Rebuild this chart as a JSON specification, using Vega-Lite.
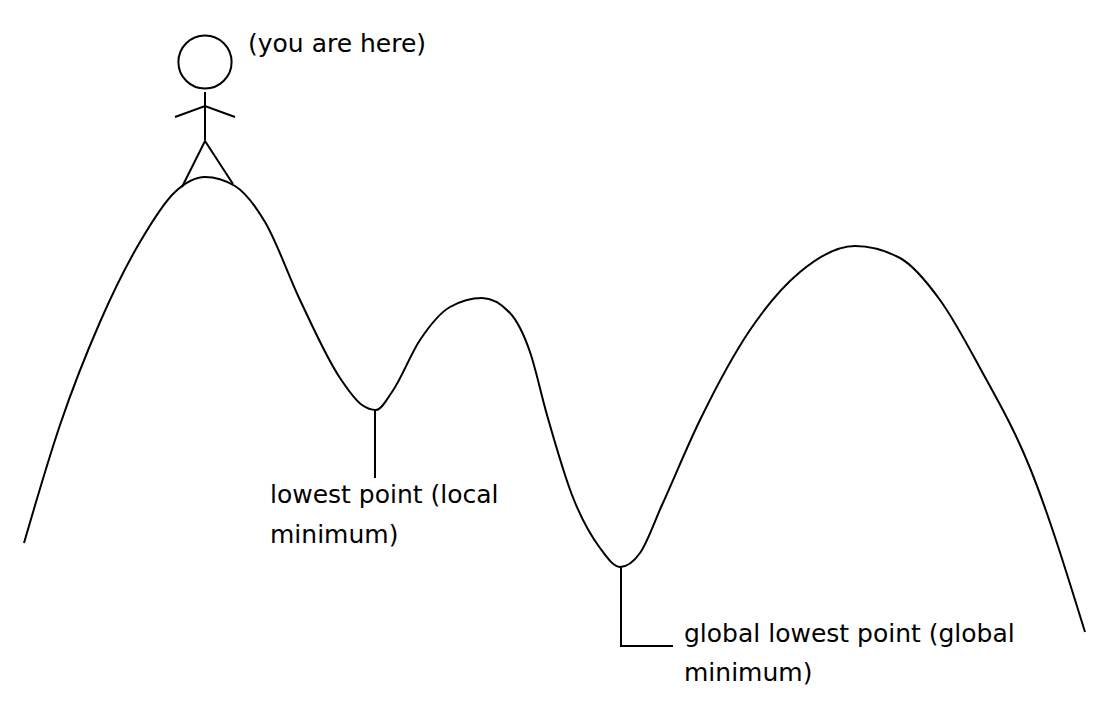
{
"$schema":"https://vega.github.io/schema/vega-lite/v6.json",
"autosize":{"type":"fit","contains":"padding"},
"width":1109,"height":710,"padding":0,
"config":{"view":{"stroke":null},"axis":{"disable":true}},
"background":"white",
"datasets":{
"curve":[{"x":24,"y":543},{"x":60,"y":425},{"x":100,"y":322},{"x":140,"y":242},{"x":175,"y":192},{"x":205,"y":177},{"x":235,"y":186},{"x":265,"y":222},{"x":300,"y":300},{"x":340,"y":378},{"x":362,"y":405},{"x":376,"y":410},{"x":392,"y":392},{"x":420,"y":340},{"x":450,"y":307},{"x":482,"y":298},{"x":510,"y":313},{"x":530,"y":352},{"x":547,"y":415},{"x":572,"y":495},{"x":600,"y":548},{"x":620,"y":567},{"x":640,"y":553},{"x":662,"y":505},{"x":700,"y":420},{"x":750,"y":330},{"x":800,"y":272},{"x":855,"y":246},{"x":900,"y":258},{"x":940,"y":300},{"x":980,"y":368},{"x":1030,"y":468},{"x":1085,"y":632}],
"segs":[{"g":"body","o":1,"x":205,"y":92},{"g":"body","o":2,"x":205,"y":140},
{"g":"arms","o":1,"x":175,"y":117},{"g":"arms","o":2,"x":205,"y":106},{"g":"arms","o":3,"x":235,"y":117},
{"g":"legs","o":1,"x":182,"y":187},{"g":"legs","o":2,"x":205,"y":141},{"g":"legs","o":3,"x":233,"y":184},
{"g":"l1","o":1,"x":375,"y":410},{"g":"l1","o":2,"x":375,"y":478},
{"g":"l2","o":1,"x":621,"y":567},{"g":"l2","o":2,"x":621,"y":646},{"g":"l2","o":3,"x":673,"y":646}],
"head":[{"x":205,"y":62}],
"labels":[{"x":248,"y":52,"t":"(you are here)"},{"x":270,"y":503,"t":"lowest point (local"},{"x":270,"y":543,"t":"minimum)"},{"x":684,"y":642,"t":"global lowest point (global"},{"x":684,"y":681,"t":"minimum)"}]
},
"encoding":{
"x":{"field":"x","type":"quantitative","scale":{"domain":[0,1109],"nice":false,"zero":false}},
"y":{"field":"y","type":"quantitative","scale":{"domain":[0,710],"reverse":true,"nice":false,"zero":false}}
},
"layer":[
{"data":{"name":"curve"},"mark":{"type":"line","interpolate":"monotone","color":"black","strokeWidth":2}},
{"data":{"name":"segs"},"mark":{"type":"line","color":"black","strokeWidth":2},"encoding":{"detail":{"field":"g"},"order":{"field":"o","type":"quantitative"}}},
{"data":{"name":"head"},"mark":{"type":"point","shape":"circle","filled":false,"size":2830,"stroke":"black","strokeWidth":2,"opacity":1}},
{"data":{"name":"labels"},"mark":{"type":"text","align":"left","baseline":"alphabetic","fontSize":25,"font":"DejaVu Sans","color":"black"},"encoding":{"text":{"field":"t"}}}
]
}
